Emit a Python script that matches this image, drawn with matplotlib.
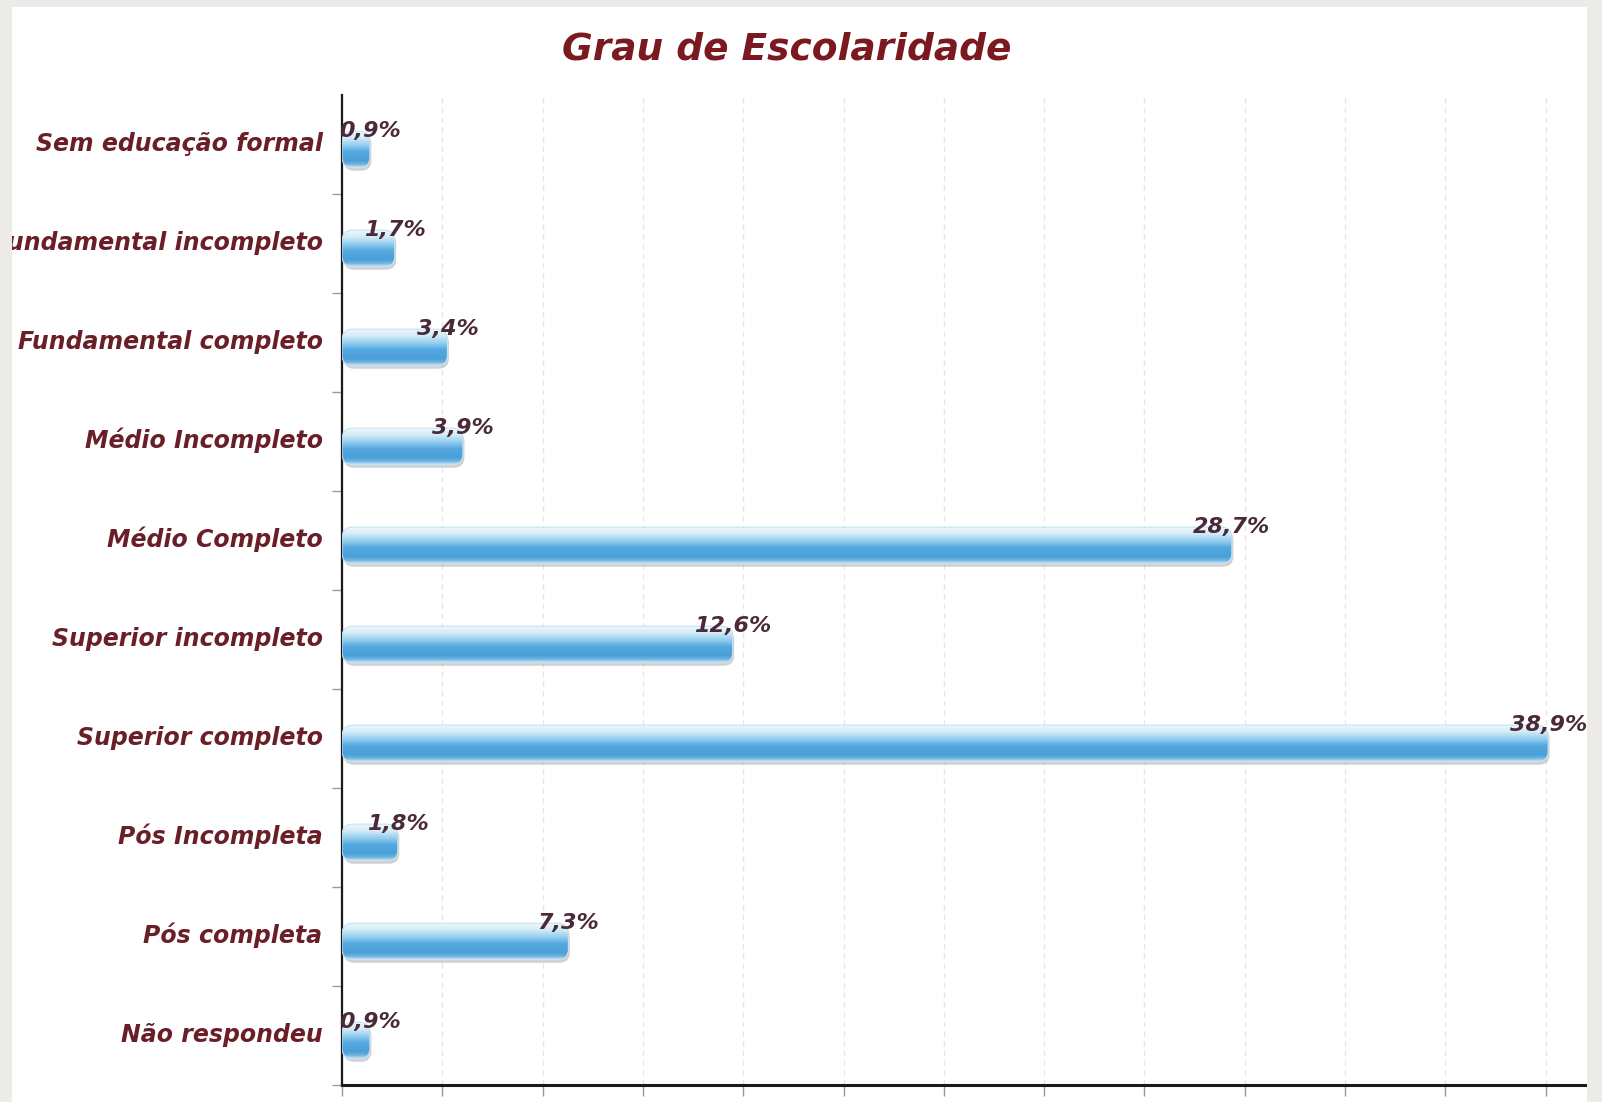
import numpy as np
import matplotlib
matplotlib.use("Agg")
import matplotlib.pyplot as plt
from matplotlib.patches import FancyBboxPatch, Rectangle
from matplotlib.colors import LinearSegmentedColormap
from matplotlib.transforms import ScaledTranslation

# ----------------- DATA -----------------
categories = ["Sem educação formal", "Fundamental incompleto", "Fundamental completo",
              "Médio Incompleto", "Médio Completo", "Superior incompleto",
              "Superior completo", "Pós Incompleta", "Pós completa", "Não respondeu"]
values = [0.9, 1.7, 3.4, 3.9, 28.7, 12.6, 38.9, 1.8, 7.3, 0.9]
value_labels = ["0,9%", "1,7%", "3,4%", "3,9%", "28,7%", "12,6%", "38,9%", "1,8%", "7,3%", "0,9%"]

TITLE_COLOR = "#7a1a20"
LABEL_COLOR = "#6a1e28"
VALUE_COLOR = "#4a2a38"

# ----------------- FIGURE -----------------
fig = plt.figure(figsize=(16.02, 11.02), dpi=100, facecolor="white")
ax = fig.add_axes([0.2135, 0.0154, 0.9925 - 0.2135, 0.9138 - 0.0154])

xmax = 40.25
n = len(categories)

# bar gradient: pale top -> blue body -> pale lower edge
grad_cmap = LinearSegmentedColormap.from_list("bar", [
    (0.00, "#eef8fc"), (0.18, "#d3ecf8"), (0.40, "#8ccaee"), (0.55, "#55a9df"),
    (0.80, "#4a9fd8"), (0.90, "#6fb5e3"), (1.00, "#dcedf8")])
grad = np.linspace(0, 1, 256).reshape(-1, 1)

bar_h = 0.37
offset = 0.05
rx = 0.34
asp = (1 / 99.0) / (xmax / 1248.0)
shadow_tr = ax.transData + ScaledTranslation(1.5 / 100, -3 / 100, fig.dpi_scale_trans)

for i, v in enumerate(values):
    y0 = i + offset - bar_h / 2
    shadow = FancyBboxPatch((0, y0), v, bar_h, boxstyle=f"round,pad=0,rounding_size={rx}",
                            mutation_aspect=asp, fc="#9a9a9a", ec="none", alpha=0.45,
                            transform=shadow_tr, zorder=2)
    ax.add_patch(shadow)
    patch = FancyBboxPatch((0, y0), v, bar_h, boxstyle=f"round,pad=0,rounding_size={rx}",
                           mutation_aspect=asp, fc="none", ec="#c8e2f2", lw=0.8, zorder=4)
    ax.add_patch(patch)
    im = ax.imshow(grad, cmap=grad_cmap, aspect="auto", extent=(0, v, y0 + bar_h, y0),
                   origin="upper", zorder=3, interpolation="bilinear")
    im.set_clip_path(patch)
    ax.text(v, y0 - 0.0, value_labels[i], ha="center", va="center", fontsize=16,
            fontweight="bold", fontstyle="italic", color=VALUE_COLOR, zorder=6)

ax.set_xlim(0, xmax)
ax.set_ylim(n - 0.5, -0.5)

# ----------------- AXES STYLING -----------------
ax.set_xticks(np.arange(0, xmax, 3.235))
ax.set_xticklabels([])
ax.tick_params(axis="x", length=8, width=1, color="#999999", direction="out")
ax.grid(axis="x", color="#e6e6e6", lw=1, ls=(0, (4, 3)), zorder=0)

ax.set_yticks(np.arange(n) - 0.035)
ax.set_yticklabels(categories, fontsize=17, fontweight="bold", fontstyle="italic",
                   color=LABEL_COLOR)
ax.tick_params(axis="y", which="major", length=0, pad=14)
ax.set_yticks(np.arange(0.5, n, 1.0), minor=True)
ax.tick_params(axis="y", which="minor", length=7, width=1, color="#999999", direction="out")

for side in ["top", "right"]:
    ax.spines[side].set_visible(False)
ax.spines["left"].set_color("#1a1a1a")
ax.spines["left"].set_linewidth(1.6)
ax.spines["bottom"].set_color("#1a1a1a")
ax.spines["bottom"].set_linewidth(2.2)

fig.text(0.4913, 0.955, "Grau de Escolaridade", ha="center", va="center", fontsize=27,
         fontweight="bold", fontstyle="italic", color=TITLE_COLOR)

# ----------------- GRAY FRAME (drawn on top, clips text like the slide) -----------------
W, H = 1602, 1102
frame = "#ecebe8"
for (x, y, w, h) in [(0, 0, 12, H), (1587, 0, W - 1587, H), (0, H - 7, W, 7)]:
    fig.add_artist(Rectangle((x / W, y / H), w / W, h / H, transform=fig.transFigure,
                             fc=frame, ec="none", zorder=20))

fig.savefig("out.png", dpi=100, facecolor="white")
